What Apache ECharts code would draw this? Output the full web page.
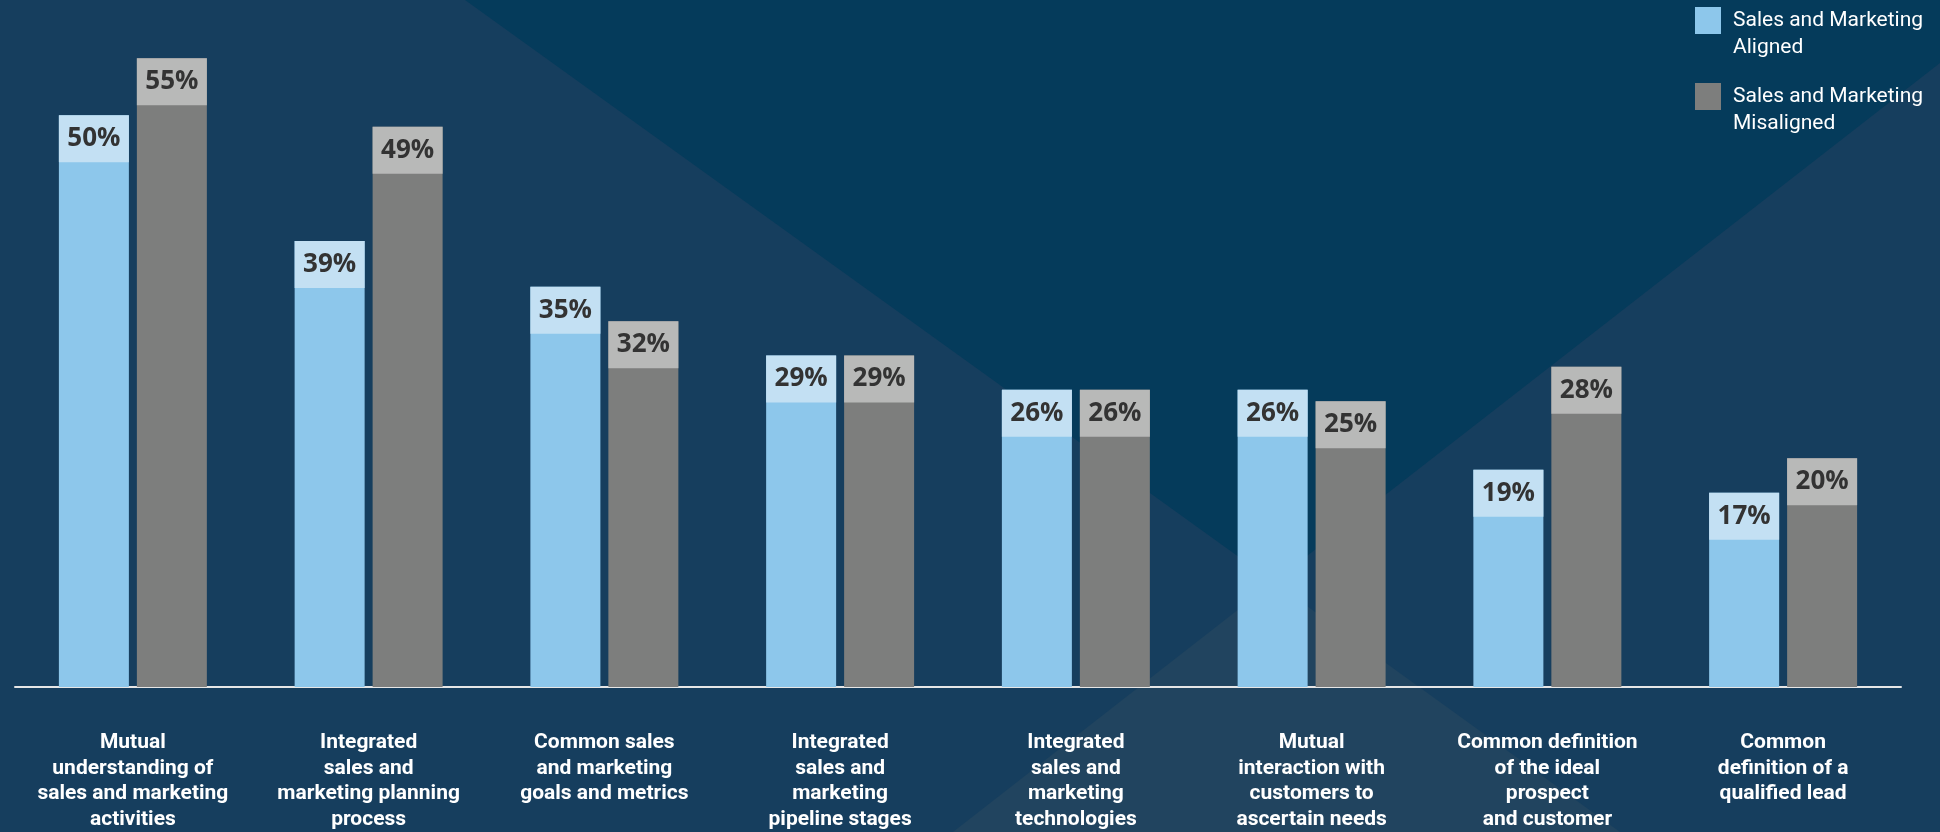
<!DOCTYPE html>
<html>
<head>
<meta charset="utf-8">
<script src="https://cdn.jsdelivr.net/npm/echarts@6/dist/echarts.min.js"></script>
<style>
  html, body { margin: 0; padding: 0; background: #163e5e; }
  #chart { width: 1940px; height: 832px; }
</style>
</head>
<body>
<div id="chart"></div>
<script>
// Survey categories (line breaks as laid out under each bar pair)
const categories = [
  'Mutual\nunderstanding of\nsales and marketing\nactivities',
  'Integrated\nsales and\nmarketing planning\nprocess',
  'Common sales\nand marketing\ngoals and metrics',
  'Integrated\nsales and\nmarketing\npipeline stages',
  'Integrated\nsales and\nmarketing\ntechnologies',
  'Mutual\ninteraction with\ncustomers to\nascertain needs',
  'Common definition\nof the ideal\nprospect\nand customer',
  'Common\ndefinition of a\nqualified lead'
];

// Percent of respondents
const alignedValues = [50, 39, 35, 29, 26, 26, 19, 17];
const misalignedValues = [55, 49, 32, 29, 26, 25, 28, 20];

const seriesNames = ['Sales and Marketing Aligned', 'Sales and Marketing Misaligned'];

const chart = echarts.init(document.getElementById('chart'));

// Value tag drawn as a coloured cap on top of each bar
function capLabel(bg) {
  return {
    show: true,
    position: 'insideTop',
    distance: 0,
    formatter: '{c}%',
    color: '#333333',
    fontFamily: 'Open Sans',
    fontWeight: 'bold',
    fontSize: 26,
    backgroundColor: bg,
    width: 70,
    height: 47,
    lineHeight: 47,
    padding: 0,
    align: 'center'
  };
}

// Legend entry: square beside a two-line name, square level with the first line
// (the leading blank line keeps the first line on the square's centre)
function legendBlock(name, top) {
  return {
    data: [name],
    orient: 'vertical',
    left: 1695,
    top: top,
    padding: 0,
    icon: 'rect',
    itemWidth: 26,
    itemHeight: 27,
    selectedMode: false,
    formatter: n => '\n' + n.replace('Marketing ', 'Marketing\n'),
    textStyle: {
      color: '#ffffff',
      fontFamily: 'Roboto',
      fontSize: 21,
      lineHeight: 27,
      padding: [0, 0, 0, 7]
    }
  };
}

const option = {
  backgroundColor: '#163e5e',
  animation: false,
  graphic: {
    elements: [
      {
        type: 'polygon',
        silent: true,
        z: -10,
        shape: { points: [[465, 0], [1940, 0], [1940, 63], [1273.6, 582]] },
        style: { fill: '#053b5b' }
      },
      {
        type: 'polygon',
        silent: true,
        z: -10,
        shape: { points: [[1273.6, 582], [953, 832], [1620, 832]] },
        style: { fill: '#21445f' }
      }
    ]
  },
  legend: [
    legendBlock(seriesNames[0], -20),
    legendBlock(seriesNames[1], 56)
  ],
  grid: { left: 15, right: 39, top: 1, bottom: 144, containLabel: false },
  xAxis: {
    type: 'category',
    data: categories,
    axisTick: { show: false },
    axisLine: { lineStyle: { color: '#e6e6e6', width: 2 } },
    axisLabel: {
      interval: 0,
      color: '#ffffff',
      fontFamily: 'Roboto',
      fontWeight: 'bold',
      fontSize: 21,
      lineHeight: 25.5,
      margin: 43
    }
  },
  yAxis: {
    type: 'value',
    min: 0,
    max: 60,
    show: false,
    splitLine: { show: false }
  },
  series: [
    {
      name: seriesNames[0],
      type: 'bar',
      data: alignedValues,
      barWidth: 70,
      barGap: '11.4%',
      itemStyle: { color: '#8dc7eb' },
      label: capLabel('#c3e0f3')
    },
    {
      name: seriesNames[1],
      type: 'bar',
      data: misalignedValues,
      barWidth: 70,
      barGap: '11.4%',
      itemStyle: { color: '#7d7e7d' },
      label: capLabel('#b8b9b8')
    }
  ]
};

chart.setOption(option);
</script>
</body>
</html>
